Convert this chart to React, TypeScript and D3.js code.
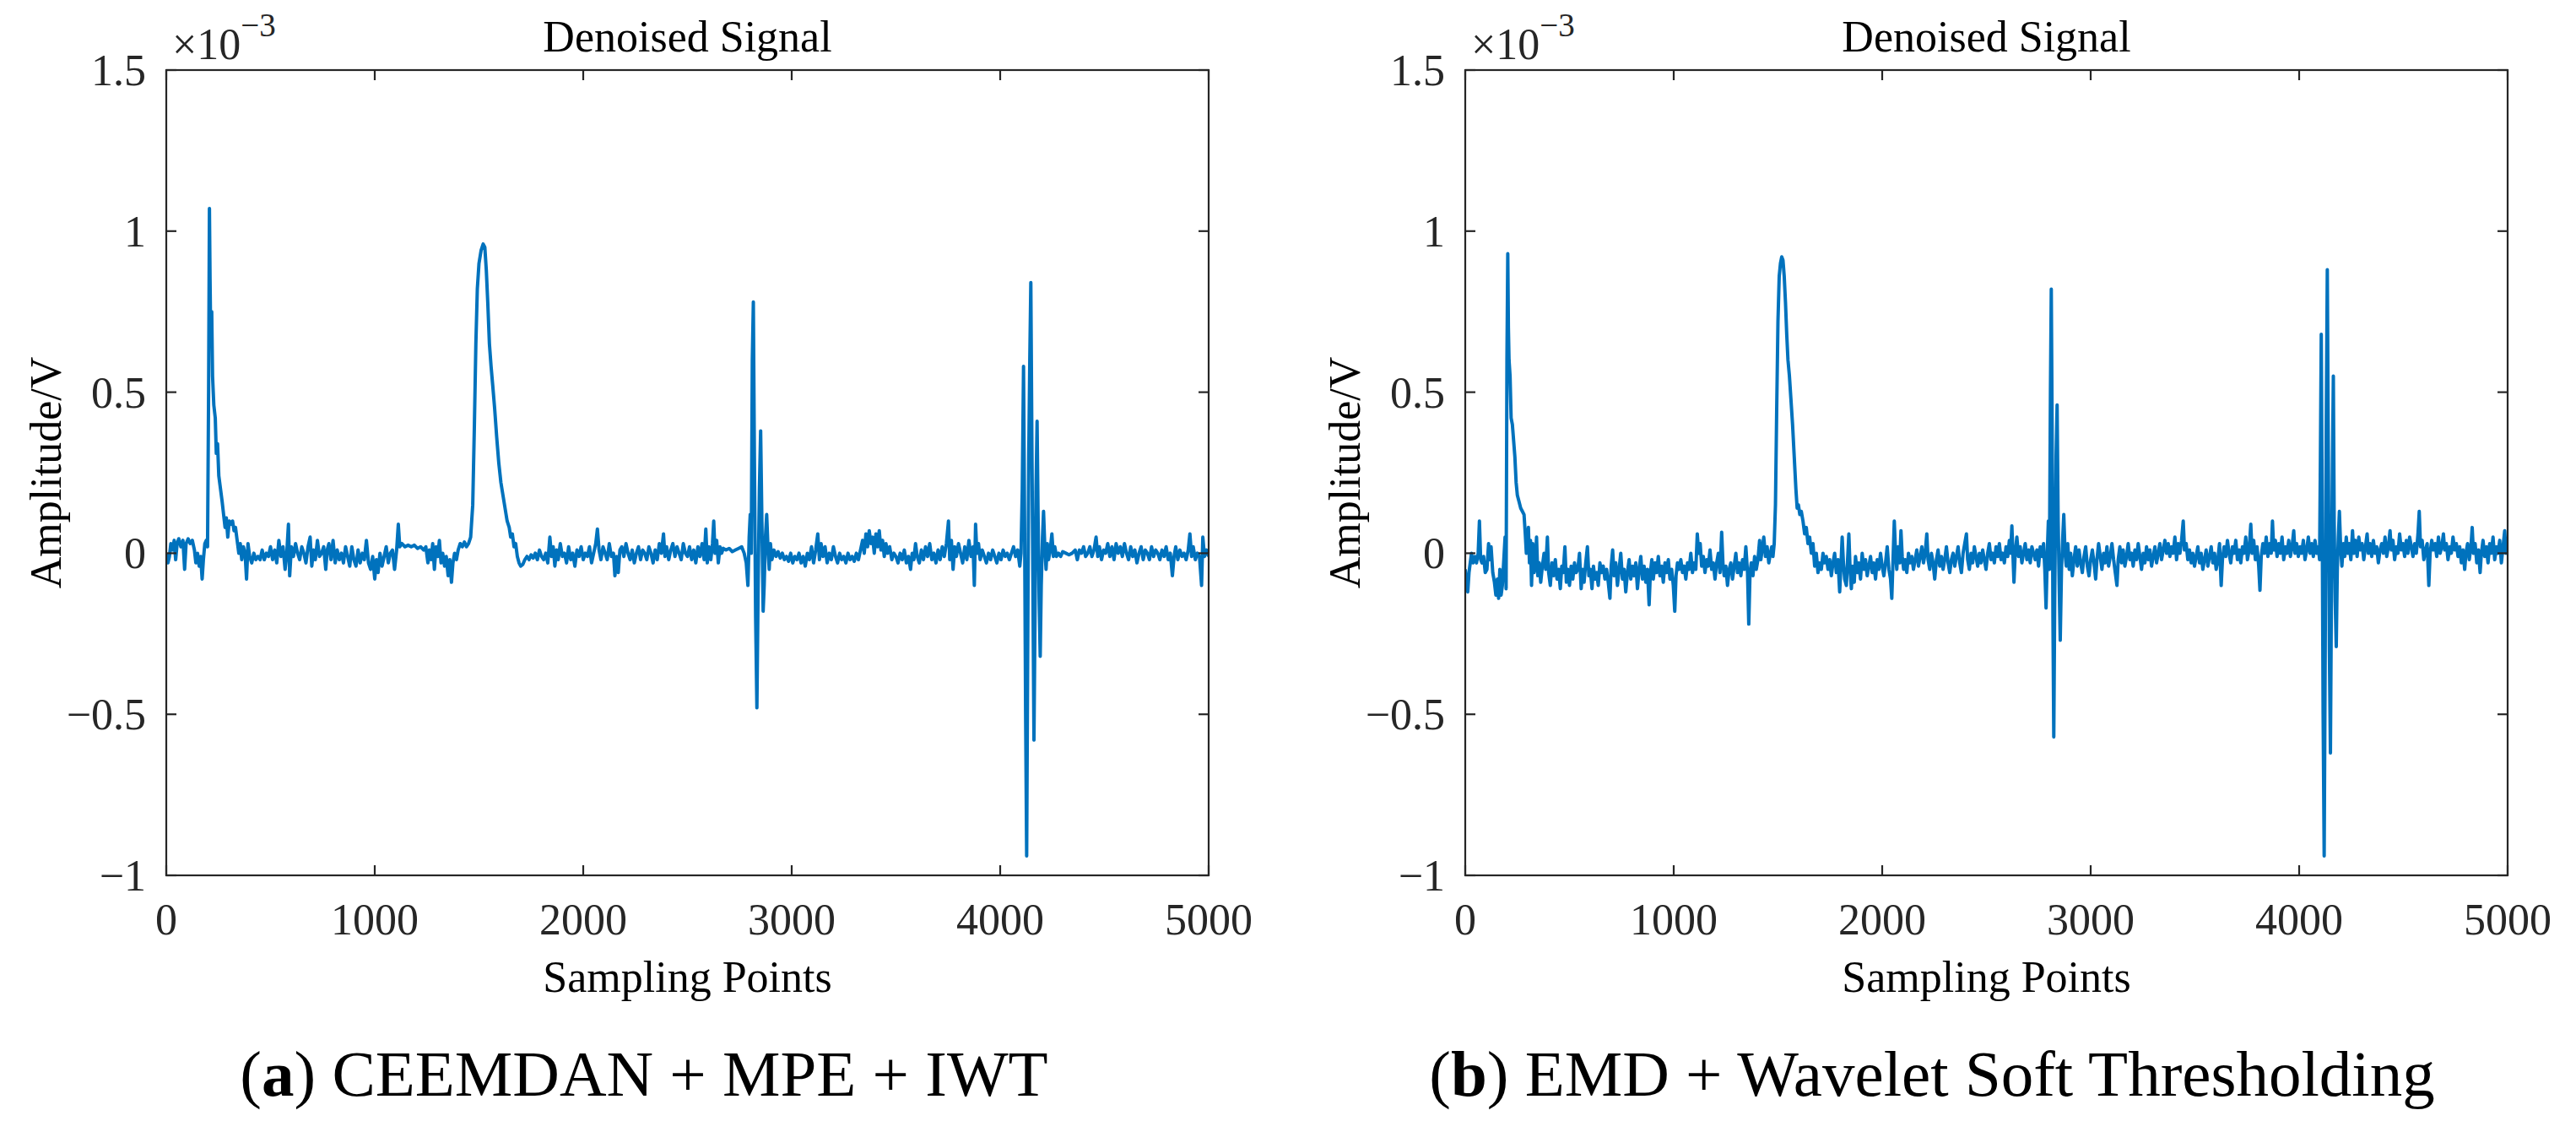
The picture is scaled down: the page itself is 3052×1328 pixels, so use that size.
import React from 'react'
import * as d3 from 'd3'

// samples, amplitude in units of 1e-3 V
const sigA: [number, number][] = [
  [0, 0], [8, -0.03], [15, -0.01], [22, 0.03], [30, 0.01], [38, 0.04], [45, -0.02], [52, 0.03], [60, 0.045], [70, 0.02],
  [80, 0.04], [88, -0.05], [95, 0.03], [105, 0.045], [115, 0.03], [125, 0.04], [135, 0.01], [142, -0.03], [150, 0], [158, -0.04],
  [165, -0.01], [172, -0.08], [178, -0.02], [185, 0.03], [192, 0.04], [198, 0.02], [203, 0.5], [207, 1.07], [210, 0.85], [213, 0.68],
  [218, 0.75], [222, 0.55], [228, 0.46], [235, 0.42], [240, 0.31], [246, 0.34], [252, 0.24], [260, 0.2], [268, 0.16], [275, 0.12],
  [282, 0.08], [288, 0.11], [295, 0.05], [302, 0.1], [310, 0.09], [318, 0.1], [325, 0.07], [332, 0.08], [340, 0.04], [348, 0],
  [355, 0.03], [362, -0.02], [370, 0.02], [378, 0], [385, -0.08], [392, 0.03], [400, -0.01], [410, -0.03], [420, 0], [430, -0.02],
  [440, -0.01], [450, -0.02], [460, 0.01], [470, -0.02], [480, 0], [490, -0.01], [500, 0.02], [510, -0.02], [520, 0.01], [530, -0.03],
  [540, 0.04], [550, -0.01], [560, 0.02], [570, -0.05], [578, 0], [586, 0.09], [592, -0.07], [600, 0.02], [610, -0.01], [620, 0.03],
  [630, 0], [640, -0.02], [650, 0.02], [660, 0], [670, -0.03], [680, 0.02], [690, 0.05], [698, -0.04], [706, 0.01], [715, -0.02],
  [725, 0.04], [735, -0.01], [745, 0], [755, 0.02], [765, -0.05], [772, 0.01], [780, 0.03], [790, -0.02], [800, 0.04], [810, -0.03],
  [820, 0.01], [830, -0.02], [840, 0], [850, -0.03], [860, 0.02], [870, -0.01], [880, -0.04], [890, 0.02], [900, -0.02], [910, -0.04],
  [920, 0.01], [930, -0.03], [940, 0], [950, -0.02], [960, 0.04], [970, -0.03], [980, -0.05], [990, -0.01], [1000, -0.08], [1008, -0.02],
  [1016, -0.06], [1025, 0], [1035, -0.04], [1045, -0.01], [1055, 0.02], [1065, -0.03], [1075, 0], [1085, 0.01], [1095, -0.05], [1105, 0.01],
  [1113, 0.09], [1120, 0.02], [1130, 0.03], [1145, 0.02], [1160, 0.025], [1175, 0.02], [1190, 0.025], [1205, 0.015], [1220, 0.02], [1235, 0.01],
  [1245, 0.02], [1255, -0.03], [1262, 0.01], [1270, -0.02], [1278, 0.03], [1286, -0.05], [1294, 0.02], [1302, -0.01], [1310, 0.04], [1318, -0.03],
  [1326, 0], [1335, -0.04], [1343, -0.01], [1352, -0.07], [1360, -0.02], [1368, -0.09], [1375, -0.03], [1383, 0], [1392, -0.02], [1400, 0.01],
  [1410, 0.03], [1420, 0.02], [1430, 0.035], [1440, 0.02], [1450, 0.03], [1460, 0.05], [1470, 0.15], [1478, 0.4], [1485, 0.65], [1492, 0.82],
  [1500, 0.9], [1510, 0.94], [1520, 0.96], [1528, 0.95], [1535, 0.88], [1542, 0.78], [1550, 0.65], [1558, 0.58], [1566, 0.52], [1575, 0.45],
  [1585, 0.36], [1595, 0.28], [1605, 0.22], [1615, 0.18], [1625, 0.14], [1635, 0.1], [1645, 0.08], [1652, 0.05], [1660, 0.06], [1668, 0.02],
  [1676, 0.03], [1684, -0.01], [1692, -0.03], [1700, -0.04], [1710, -0.035], [1720, -0.02], [1730, -0.01], [1740, -0.02], [1750, -0.005], [1760, -0.015],
  [1770, 0], [1780, -0.02], [1790, 0.01], [1800, -0.01], [1810, -0.02], [1820, 0], [1830, -0.03], [1840, 0.05], [1848, -0.01], [1856, 0.02],
  [1864, -0.04], [1872, 0.01], [1880, -0.02], [1890, 0.03], [1900, -0.01], [1910, 0], [1920, -0.03], [1930, 0.02], [1940, -0.02], [1950, 0],
  [1960, -0.04], [1970, 0.01], [1980, -0.01], [1990, 0.02], [2000, -0.02], [2010, 0], [2020, -0.01], [2030, 0.02], [2040, -0.03], [2050, 0],
  [2060, 0.03], [2068, 0.075], [2076, 0.01], [2085, -0.02], [2095, 0.02], [2105, 0], [2115, -0.02], [2125, 0.03], [2135, -0.01], [2145, 0],
  [2152, -0.07], [2160, -0.01], [2168, -0.06], [2176, 0.01], [2185, 0.02], [2195, -0.01], [2205, 0.03], [2215, 0], [2225, -0.02], [2235, 0.01],
  [2245, -0.03], [2255, 0], [2265, 0.02], [2275, -0.02], [2285, 0.01], [2295, 0], [2305, -0.02], [2315, 0.02], [2325, 0], [2335, -0.03],
  [2345, 0.01], [2355, -0.02], [2365, 0.03], [2375, 0], [2385, 0.06], [2392, -0.01], [2400, 0.02], [2410, -0.02], [2420, 0.01], [2430, 0.03],
  [2440, -0.01], [2450, 0.02], [2460, 0], [2470, -0.02], [2480, 0.03], [2490, 0], [2500, -0.01], [2510, 0.02], [2520, -0.02], [2530, 0.01],
  [2540, -0.03], [2550, 0.02], [2560, -0.01], [2570, 0.03], [2580, -0.02], [2588, 0.075], [2595, -0.03], [2603, 0.02], [2612, -0.02], [2620, 0.03],
  [2626, 0.1], [2632, 0], [2640, 0.04], [2648, -0.03], [2656, 0.02], [2664, 0], [2672, 0.015], [2685, 0.01], [2700, 0.015], [2715, 0.005],
  [2730, 0.01], [2745, 0.015], [2760, 0.02], [2772, 0], [2782, -0.03], [2790, -0.1], [2796, 0.05], [2801, 0.12], [2806, 0], [2811, 0.6],
  [2816, 0.78], [2821, 0.3], [2827, -0.2], [2833, -0.48], [2839, -0.1], [2845, 0.2], [2851, 0.38], [2857, 0.1], [2863, -0.18], [2868, -0.1],
  [2874, 0.05], [2880, 0.12], [2886, 0.02], [2892, -0.05], [2898, 0.03], [2905, -0.02], [2915, 0.01], [2925, -0.01], [2935, 0.005], [2945, -0.015],
  [2955, 0], [2965, -0.02], [2975, -0.01], [2985, -0.025], [2995, 0], [3005, -0.03], [3015, -0.01], [3025, -0.02], [3035, 0], [3045, -0.03],
  [3055, -0.01], [3065, -0.04], [3075, 0], [3085, -0.02], [3095, 0.02], [3105, -0.03], [3115, 0.01], [3125, 0.06], [3133, -0.02], [3141, 0.03],
  [3150, -0.01], [3160, 0.02], [3170, -0.03], [3180, 0], [3190, -0.02], [3200, 0.02], [3210, -0.01], [3220, -0.03], [3230, 0], [3240, -0.02],
  [3250, -0.01], [3260, -0.03], [3270, 0], [3280, -0.02], [3290, -0.01], [3300, -0.025], [3310, 0], [3320, -0.02], [3330, 0.01], [3340, 0.04],
  [3348, 0], [3356, 0.06], [3364, 0.02], [3372, 0.07], [3380, 0.03], [3388, 0.05], [3396, 0], [3404, 0.06], [3412, 0.02], [3420, 0.07],
  [3428, 0.01], [3436, 0.04], [3444, -0.01], [3452, 0.03], [3460, 0], [3470, 0.02], [3480, -0.02], [3490, 0], [3500, -0.01], [3510, -0.03],
  [3520, 0], [3530, -0.02], [3540, 0.01], [3550, -0.03], [3560, -0.01], [3570, -0.05], [3578, 0], [3586, -0.02], [3594, 0.03], [3602, -0.01],
  [3612, -0.03], [3622, 0.01], [3632, -0.02], [3642, 0.02], [3652, -0.01], [3662, 0.03], [3672, -0.02], [3682, 0], [3692, -0.03], [3702, 0.01],
  [3712, -0.02], [3722, 0.02], [3732, -0.01], [3742, 0.03], [3752, 0.1], [3758, -0.02], [3766, 0.04], [3774, -0.05], [3782, 0.02], [3790, -0.01],
  [3800, 0.03], [3810, 0], [3820, -0.03], [3830, 0.02], [3840, -0.02], [3850, 0.04], [3860, -0.01], [3870, 0.02], [3876, -0.1], [3882, 0.09],
  [3888, 0], [3896, 0.03], [3904, -0.02], [3914, 0.01], [3924, -0.01], [3934, -0.03], [3944, 0], [3954, -0.02], [3964, 0.01], [3974, -0.01],
  [3984, -0.03], [3994, 0], [4004, -0.02], [4014, 0.01], [4024, -0.01], [4034, 0], [4044, -0.02], [4054, 0], [4064, 0.02], [4074, -0.01],
  [4084, 0.01], [4094, -0.04], [4100, 0], [4106, 0.2], [4112, 0.58], [4117, 0.1], [4122, -0.5], [4127, -0.94], [4132, -0.3], [4137, 0.3],
  [4142, 0.6], [4147, 0.84], [4152, 0.35], [4157, -0.1], [4162, -0.58], [4167, -0.2], [4172, 0.2], [4177, 0.41], [4182, 0.1], [4187, -0.15],
  [4192, -0.32], [4197, -0.1], [4203, 0.05], [4208, 0.13], [4214, 0.02], [4220, -0.05], [4226, 0.03], [4232, -0.02], [4240, 0.01], [4248, 0.06],
  [4255, -0.01], [4262, 0.02], [4270, -0.01], [4280, 0], [4290, -0.01], [4300, 0.005], [4315, 0], [4330, -0.005], [4345, 0], [4360, 0.01],
  [4370, -0.02], [4380, 0.01], [4390, 0], [4400, 0.02], [4410, -0.01], [4420, 0], [4430, 0.02], [4440, -0.01], [4450, 0.01], [4460, 0.05],
  [4468, -0.01], [4476, 0.02], [4486, -0.02], [4496, 0.01], [4506, 0], [4516, 0.03], [4526, -0.01], [4536, 0.02], [4546, -0.02], [4556, 0.03],
  [4566, 0], [4576, 0.02], [4586, -0.01], [4596, 0.03], [4606, 0], [4616, -0.02], [4626, 0.02], [4636, -0.01], [4646, 0.01], [4656, -0.03],
  [4666, 0], [4676, 0.02], [4686, -0.02], [4696, 0.01], [4706, 0], [4716, -0.02], [4726, 0.02], [4736, -0.01], [4746, 0.01], [4756, 0],
  [4766, -0.02], [4776, 0.01], [4786, -0.01], [4796, 0.02], [4806, -0.02], [4816, 0], [4826, -0.07], [4834, -0.01], [4842, 0.02], [4852, -0.02],
  [4862, 0.01], [4872, -0.01], [4882, 0], [4892, -0.02], [4902, 0.01], [4910, 0.06], [4918, -0.01], [4926, 0.02], [4936, -0.02], [4946, 0],
  [4956, -0.01], [4966, -0.1], [4972, 0.05], [4980, -0.01], [4990, 0.01], [5000, -0.01],
]

const sigB: [number, number][] = [
  [0, -0.05], [6, -0.1], [12, -0.12], [18, -0.06], [24, -0.03], [30, 0], [38, -0.03], [46, -0.01], [54, -0.03], [62, 0],
  [68, 0.1], [74, -0.02], [80, -0.03], [88, -0.01], [96, -0.06], [104, -0.05], [112, 0.03], [118, -0.02], [124, 0.02], [132, -0.06],
  [140, -0.09], [147, -0.13], [154, -0.08], [160, -0.14], [166, -0.05], [172, -0.13], [178, -0.1], [185, -0.02], [191, 0.05], [196, -0.11],
  [200, 0.6], [204, 0.93], [207, 0.7], [210, 0.6], [215, 0.55], [220, 0.42], [226, 0.4], [232, 0.35], [238, 0.3], [244, 0.22],
  [250, 0.18], [258, 0.16], [266, 0.14], [274, 0.13], [282, 0.12], [288, 0.06], [293, 0], [298, 0.02], [303, 0.08], [308, -0.03],
  [313, 0.04], [318, -0.1], [324, 0.03], [330, -0.06], [336, -0.04], [342, 0.05], [348, -0.07], [355, -0.03], [362, -0.09], [370, -0.04],
  [378, 0], [386, -0.05], [394, 0.05], [400, -0.06], [408, -0.1], [416, -0.03], [424, -0.07], [432, -0.02], [440, -0.08], [448, -0.05],
  [456, -0.11], [463, -0.04], [470, -0.06], [478, 0.02], [485, -0.09], [492, -0.05], [500, -0.1], [508, -0.04], [516, -0.08], [524, -0.03],
  [532, -0.06], [540, -0.05], [548, 0], [556, -0.11], [563, -0.05], [570, -0.09], [578, -0.03], [586, 0.02], [593, -0.07], [600, -0.05],
  [608, -0.11], [615, -0.04], [622, -0.08], [630, -0.06], [638, -0.1], [646, -0.03], [654, -0.06], [662, -0.04], [670, -0.08], [678, -0.05],
  [686, -0.09], [694, -0.14], [700, -0.04], [707, 0.01], [714, -0.07], [722, -0.03], [730, -0.1], [738, -0.05], [746, 0], [754, -0.08],
  [762, -0.05], [770, -0.12], [778, -0.06], [786, -0.02], [794, -0.08], [802, -0.04], [810, -0.07], [818, -0.03], [826, -0.11], [834, -0.05],
  [842, -0.01], [850, -0.08], [858, -0.04], [866, -0.09], [874, -0.05], [882, -0.16], [888, -0.06], [895, -0.02], [902, -0.08], [910, -0.03],
  [918, -0.06], [926, -0.01], [934, -0.07], [942, -0.04], [950, -0.09], [958, -0.03], [966, -0.06], [974, -0.02], [982, -0.08], [990, -0.05],
  [998, -0.1], [1005, -0.18], [1011, -0.07], [1018, -0.03], [1026, -0.05], [1034, -0.02], [1042, -0.06], [1050, -0.04], [1058, -0.08], [1066, -0.03],
  [1074, -0.05], [1082, 0], [1090, -0.06], [1098, -0.03], [1106, -0.05], [1113, 0.06], [1120, 0], [1127, 0.03], [1134, -0.04], [1142, -0.01],
  [1150, -0.06], [1158, -0.02], [1166, -0.04], [1174, 0.01], [1182, -0.05], [1190, -0.03], [1198, -0.08], [1206, -0.03], [1214, 0], [1222, -0.06],
  [1230, 0.065], [1236, -0.03], [1242, -0.07], [1250, -0.04], [1258, -0.1], [1266, -0.05], [1274, -0.03], [1282, -0.08], [1290, -0.04], [1298, 0],
  [1306, -0.06], [1314, -0.03], [1322, -0.07], [1330, -0.02], [1338, -0.05], [1346, 0.02], [1354, -0.06], [1360, -0.22], [1366, -0.06], [1372, -0.03],
  [1380, -0.07], [1388, -0.01], [1396, -0.05], [1404, -0.02], [1412, 0.04], [1418, -0.02], [1424, 0.01], [1432, 0.05], [1440, -0.01], [1448, 0.02],
  [1456, -0.03], [1464, 0], [1470, 0.02], [1476, -0.01], [1482, 0.03], [1488, 0.15], [1494, 0.45], [1500, 0.72], [1506, 0.86], [1512, 0.9],
  [1518, 0.92], [1524, 0.91], [1530, 0.86], [1536, 0.78], [1542, 0.68], [1548, 0.6], [1555, 0.55], [1562, 0.48], [1570, 0.4], [1578, 0.3],
  [1586, 0.2], [1592, 0.14], [1598, 0.15], [1605, 0.12], [1612, 0.13], [1620, 0.1], [1628, 0.06], [1636, 0.08], [1644, 0.03], [1652, 0.05],
  [1660, 0], [1668, 0.03], [1676, -0.04], [1684, 0], [1692, -0.06], [1700, -0.03], [1708, -0.05], [1716, 0], [1724, -0.03], [1732, -0.01],
  [1740, -0.05], [1748, -0.02], [1756, -0.07], [1764, -0.03], [1772, 0], [1780, -0.06], [1788, -0.02], [1796, -0.12], [1802, -0.04], [1808, 0.05],
  [1814, -0.03], [1820, -0.08], [1828, -0.1], [1834, -0.02], [1840, 0.06], [1846, -0.05], [1852, -0.11], [1858, -0.04], [1866, -0.09], [1872, -0.01],
  [1880, -0.06], [1888, -0.03], [1896, -0.08], [1904, 0], [1912, -0.05], [1920, -0.02], [1928, -0.07], [1936, -0.04], [1944, -0.01], [1952, -0.06],
  [1960, -0.03], [1968, -0.08], [1976, -0.02], [1984, -0.05], [1992, 0], [2000, -0.04], [2008, -0.07], [2016, -0.03], [2024, 0.02], [2032, -0.05],
  [2040, -0.08], [2046, -0.14], [2052, -0.02], [2058, 0.1], [2064, 0], [2070, -0.05], [2076, 0.02], [2084, -0.03], [2090, 0.07], [2096, -0.01],
  [2103, -0.05], [2110, -0.02], [2118, -0.06], [2126, 0], [2134, -0.03], [2142, -0.01], [2150, -0.05], [2158, -0.02], [2166, 0.01], [2174, -0.04],
  [2182, -0.01], [2190, 0.02], [2198, -0.03], [2206, 0], [2214, 0.06], [2220, -0.02], [2228, -0.05], [2236, 0], [2244, -0.03], [2252, -0.08],
  [2260, -0.02], [2268, 0.01], [2276, -0.04], [2284, -0.01], [2292, -0.05], [2300, -0.02], [2308, 0.02], [2316, -0.03], [2324, -0.06], [2332, -0.02],
  [2340, 0], [2348, -0.04], [2356, -0.01], [2364, 0.02], [2372, -0.03], [2380, -0.06], [2388, 0], [2396, 0.03], [2404, 0.06], [2410, -0.02],
  [2418, -0.05], [2426, 0], [2434, -0.03], [2442, 0.02], [2450, -0.01], [2458, -0.04], [2466, 0], [2474, -0.03], [2482, 0.01], [2490, -0.02],
  [2498, -0.05], [2506, 0], [2514, 0.03], [2522, -0.02], [2530, 0], [2538, -0.03], [2546, 0.02], [2554, -0.01], [2562, 0.03], [2570, -0.02],
  [2578, 0], [2586, -0.03], [2594, 0.02], [2602, -0.01], [2610, 0.04], [2616, 0], [2622, 0.085], [2628, -0.02], [2632, -0.09], [2638, 0],
  [2646, 0.05], [2654, -0.01], [2662, 0.02], [2670, -0.03], [2678, 0], [2686, 0.03], [2694, -0.02], [2702, 0.01], [2710, -0.03], [2718, 0.02],
  [2726, 0], [2734, -0.02], [2742, 0.01], [2750, -0.04], [2758, 0.02], [2766, -0.01], [2774, 0.03], [2780, -0.05], [2786, -0.17], [2792, 0],
  [2797, 0.1], [2802, -0.05], [2807, 0.5], [2811, 0.82], [2815, 0.4], [2819, -0.2], [2823, -0.57], [2828, -0.1], [2834, 0.3], [2839, 0.46],
  [2844, 0.1], [2849, -0.1], [2854, -0.27], [2860, -0.05], [2866, 0.05], [2871, 0.12], [2877, 0], [2883, -0.04], [2890, 0.03], [2897, -0.05],
  [2904, 0], [2912, -0.07], [2920, -0.02], [2928, 0.02], [2936, -0.04], [2944, 0.01], [2952, -0.03], [2960, -0.06], [2968, -0.01], [2976, 0.02],
  [2984, -0.04], [2992, -0.07], [3000, -0.02], [3008, 0.01], [3016, -0.03], [3024, -0.08], [3030, -0.02], [3038, 0.03], [3046, -0.01], [3054, -0.05],
  [3062, 0], [3070, -0.03], [3078, 0.02], [3086, -0.04], [3094, -0.01], [3102, 0.03], [3110, -0.02], [3118, -0.06], [3126, -0.1], [3132, -0.02],
  [3140, 0.02], [3148, -0.03], [3156, 0.01], [3164, -0.04], [3172, -0.01], [3180, 0.03], [3188, -0.02], [3196, 0], [3204, -0.04], [3212, 0.01],
  [3220, -0.02], [3228, 0.03], [3236, -0.01], [3244, -0.05], [3252, 0], [3260, -0.03], [3268, 0.02], [3276, -0.02], [3284, 0.01], [3292, -0.04],
  [3300, -0.01], [3308, 0.02], [3316, -0.03], [3324, 0], [3332, 0.03], [3340, -0.02], [3348, 0.01], [3356, 0.04], [3364, 0], [3372, 0.03],
  [3380, -0.01], [3388, 0.02], [3396, 0], [3404, 0.05], [3412, -0.02], [3420, 0.03], [3428, 0], [3436, 0.04], [3444, 0.1], [3450, 0.01],
  [3458, 0.03], [3466, -0.02], [3474, 0.01], [3482, -0.03], [3490, 0], [3498, -0.04], [3506, -0.01], [3514, 0.02], [3522, -0.03], [3530, 0],
  [3538, -0.05], [3546, -0.02], [3554, 0.01], [3562, -0.04], [3570, -0.01], [3578, 0.02], [3586, -0.03], [3594, 0], [3602, -0.05], [3610, -0.02],
  [3618, 0.03], [3626, -0.1], [3632, -0.02], [3640, 0.02], [3648, -0.01], [3656, 0.04], [3664, 0], [3672, -0.03], [3680, 0.02], [3688, 0],
  [3696, 0.04], [3704, -0.02], [3712, 0.01], [3720, -0.03], [3728, 0.02], [3736, 0], [3744, 0.05], [3752, -0.02], [3760, 0.01], [3768, 0.09],
  [3774, 0], [3782, 0.04], [3790, -0.02], [3798, 0.02], [3806, -0.04], [3812, -0.115], [3818, -0.01], [3826, 0.03], [3834, 0], [3842, 0.05],
  [3850, -0.01], [3858, 0.03], [3866, 0], [3872, 0.1], [3878, 0.01], [3886, 0.04], [3894, -0.01], [3902, 0.03], [3910, 0], [3918, 0.05],
  [3926, -0.02], [3934, 0.02], [3942, 0], [3950, 0.04], [3958, -0.01], [3966, 0.02], [3974, 0.07], [3980, 0], [3988, 0.03], [3996, -0.01],
  [4004, 0.02], [4012, 0], [4020, 0.04], [4028, -0.02], [4036, 0.01], [4044, 0.05], [4052, 0], [4060, 0.03], [4068, -0.01], [4076, 0.04],
  [4084, 0], [4092, 0.02], [4098, -0.02], [4102, 0.3], [4106, 0.68], [4110, 0.2], [4115, -0.5], [4120, -0.94], [4125, -0.3], [4130, 0.4],
  [4135, 0.88], [4140, 0.3], [4145, -0.3], [4150, -0.62], [4155, -0.1], [4160, 0.3], [4164, 0.55], [4168, 0.1], [4173, -0.15], [4178, -0.29],
  [4183, -0.05], [4188, 0.05], [4193, 0.13], [4199, 0.02], [4205, -0.04], [4212, 0.03], [4219, -0.01], [4226, 0.05], [4233, 0], [4240, 0.03],
  [4248, -0.02], [4256, 0.07], [4262, 0], [4270, 0.04], [4278, -0.01], [4286, 0.05], [4294, 0.01], [4302, 0.03], [4310, -0.02], [4318, 0.02],
  [4326, 0.06], [4332, 0], [4340, 0.03], [4348, -0.01], [4356, 0.04], [4364, 0], [4372, 0.02], [4380, -0.03], [4388, 0.01], [4396, 0.03],
  [4404, 0], [4412, 0.05], [4420, -0.01], [4428, 0.02], [4436, 0.07], [4442, 0.01], [4450, 0.04], [4458, -0.02], [4466, 0.02], [4474, 0],
  [4482, 0.06], [4490, 0.01], [4498, 0.03], [4506, -0.01], [4514, 0.04], [4522, 0], [4530, 0.05], [4538, 0.02], [4546, -0.01], [4554, 0.03],
  [4562, 0], [4570, 0.06], [4576, 0.13], [4582, 0.02], [4590, 0.04], [4598, -0.02], [4606, 0.01], [4614, 0.03], [4622, -0.1], [4628, 0],
  [4636, 0.04], [4644, 0.01], [4652, 0.03], [4660, -0.01], [4668, 0.05], [4676, 0], [4684, 0.02], [4692, 0.06], [4698, 0.01], [4706, 0.03],
  [4714, -0.02], [4722, 0.02], [4730, 0], [4738, 0.05], [4746, 0.01], [4754, 0.03], [4762, -0.01], [4770, 0.02], [4778, -0.03], [4786, 0.01],
  [4794, -0.05], [4800, 0], [4808, 0.03], [4816, -0.02], [4824, 0.02], [4830, 0.08], [4836, 0], [4844, 0.03], [4852, -0.03], [4860, 0.01],
  [4868, -0.06], [4874, 0], [4882, 0.04], [4890, -0.01], [4898, 0.02], [4906, -0.03], [4914, 0.03], [4922, 0], [4930, 0.05], [4938, -0.02],
  [4946, 0.02], [4954, 0], [4962, 0.04], [4970, -0.03], [4978, 0.02], [4986, 0.07], [4992, 0], [5000, 0.01],
]

const xTicks = [0, 1000, 2000, 3000, 4000, 5000]
const yTicks = [-1, -0.5, 0, 0.5, 1, 1.5]
const yTickLabels = ['\u22121', '\u22120.5', '0', '0.5', '1', '1.5']

const W = 3052
const H = 1328
const plotW = 1235
const plotH = 954
const plotTop = 83
const FONT = '"Liberation Serif", "Times New Roman", serif'
const AXIS = '#262626'
const BLUE = '#0072BD'

function Panel({ left, data, tag, caption, capX }: {
  left: number
  data: [number, number][]
  tag: string
  caption: string
  capX: number
}) {
  const x = d3.scaleLinear().domain([0, 5000]).range([0, plotW])
  const y = d3.scaleLinear().domain([-1, 1.5]).range([plotH, 0])
  const line = d3.line<[number, number]>().x(d => x(d[0])).y(d => y(d[1]))
  const clipId = `clip-${tag}`
  const tk = 12

  return (
    <g>
      <g transform={`translate(${left},${plotTop})`}>
        <defs>
          <clipPath id={clipId}><rect x={0} y={0} width={plotW} height={plotH} /></clipPath>
        </defs>
        <path d={line(data) ?? ''} fill="none" stroke={BLUE} strokeWidth={4}
          strokeLinejoin="round" clipPath={`url(#${clipId})`} />

        {/* box */}
        <rect x={0} y={0} width={plotW} height={plotH} fill="none" stroke={AXIS} strokeWidth={2.2} />

        {/* ticks, inward on all sides */}
        {xTicks.map(t => (
          <g key={`x${t}`}>
            <line x1={x(t)} x2={x(t)} y1={plotH} y2={plotH - tk} stroke={AXIS} strokeWidth={2.2} />
            <line x1={x(t)} x2={x(t)} y1={0} y2={tk} stroke={AXIS} strokeWidth={2.2} />
            <text x={x(t)} y={plotH + 70} textAnchor="middle" fontSize={52} fill={AXIS}>{t}</text>
          </g>
        ))}
        {yTicks.map((t, i) => (
          <g key={`y${t}`}>
            <line x1={0} x2={tk} y1={y(t)} y2={y(t)} stroke={AXIS} strokeWidth={2.2} />
            <line x1={plotW} x2={plotW - tk} y1={y(t)} y2={y(t)} stroke={AXIS} strokeWidth={2.2} />
            <text x={-24} y={y(t) + 18} textAnchor="end" fontSize={52} fill={AXIS}>{yTickLabels[i]}</text>
          </g>
        ))}

        {/* exponent */}
        <text x={7} y={-13} fontSize={52} fill={AXIS}>
          ×10<tspan fontSize={39} dy={-27}>−3</tspan>
        </text>

        <text x={plotW / 2} y={-22} textAnchor="middle" fontSize={52} fill="#000">Denoised Signal</text>
        <text x={plotW / 2} y={plotH + 138} textAnchor="middle" fontSize={52} fill="#000">Sampling Points</text>
        <text transform={`translate(-125,${plotH / 2}) rotate(-90)`} textAnchor="middle" fontSize={52} fill="#000">
          Amplitude/V
        </text>
      </g>

      <text x={capX} y={1298} textAnchor="middle" fontSize={77} fill="#000">
        (<tspan fontWeight="bold">{tag}</tspan>) {caption}
      </text>
    </g>
  )
}

export default function App() {
  return (
    <svg width={W} height={H} viewBox={`0 0 ${W} ${H}`} fontFamily={FONT}
      style={{ position: 'absolute', left: 0, top: 0, background: '#fff' }}>
      <rect width={W} height={H} fill="#fff" />
      <Panel left={197} data={sigA} tag="a" caption="CEEMDAN + MPE + IWT" capX={763} />
      <Panel left={1736} data={sigB} tag="b" caption="EMD + Wavelet Soft Thresholding" capX={2289} />
    </svg>
  )
}
